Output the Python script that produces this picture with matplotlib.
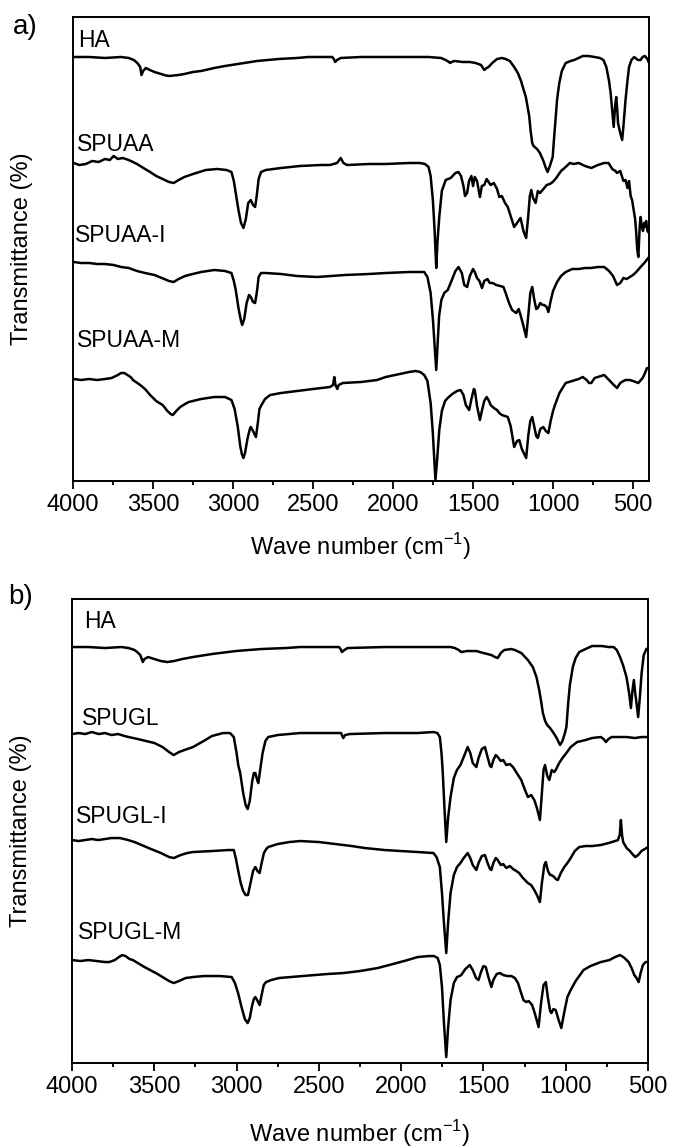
import numpy as np
import matplotlib
matplotlib.use("Agg")
import matplotlib.pyplot as plt

plt.rcParams['font.family'] = ['Liberation Sans', 'DejaVu Sans']

# FTIR spectra: (wavenumber cm-1, transmittance a.u. with stacking)
# ---- panel a ----
ha_a = [(4000, 424), (3900, 424), (3800, 423), (3700, 424), (3652, 423), (3620, 421), (3598, 418),
        (3580, 414), (3572, 406), (3562, 410), (3545, 413), (3520, 411), (3491, 409), (3450, 407),
        (3420, 405.5), (3398, 405), (3370, 405.5), (3340, 406), (3304, 407), (3250, 409), (3200, 410),
        (3117, 413), (3050, 415), (2929, 418), (2850, 420), (2715, 422), (2600, 423), (2528, 424),
        (2400, 424), (2380, 424), (2370, 422), (2362, 419), (2350, 421), (2327, 423), (2200, 424),
        (2046, 424), (1900, 424), (1778, 424), (1700, 423), (1671, 421), (1650, 419), (1644, 418),
        (1620, 420), (1564, 419), (1520, 419), (1484, 418), (1450, 416), (1430, 411), (1415, 413),
        (1403, 414), (1380, 418), (1350, 422), (1320, 423), (1296, 422), (1270, 420), (1243, 414),
        (1220, 408), (1200, 400), (1189, 394), (1170, 384), (1160, 375), (1149, 365), (1140, 350),
        (1130, 338), (1122, 335), (1100, 332), (1082, 328), (1060, 320), (1045, 313), (1034, 309),
        (1020, 315), (1010, 320), (1002, 324), (995, 340), (985, 360), (975, 381), (961, 398),
        (945, 410), (921, 418), (890, 420), (868, 421), (840, 423), (814, 425), (780, 425),
        (740, 424), (707, 423), (685, 421), (667, 414), (650, 400), (640, 388), (630, 370),
        (621, 354), (612, 375), (605, 384), (598, 370), (594, 358), (580, 348), (568, 341),
        (560, 355), (547, 381), (535, 400), (525, 414), (510, 421), (493, 424), (470, 421),
        (453, 421), (440, 424), (426, 425), (410, 422), (400, 418)]

spuaa = [(3995, 318), (3960, 316), (3920, 317), (3880, 320), (3840, 319), (3800, 322), (3770, 321),
         (3746, 325), (3720, 322), (3690, 323), (3652, 321), (3600, 317), (3560, 313), (3518, 309),
         (3480, 305), (3440, 302), (3400, 299), (3371, 298), (3340, 301), (3304, 304), (3250, 307),
         (3170, 311), (3100, 312), (3040, 311), (3010, 309), (2995, 300), (2983, 288), (2965, 270),
         (2950, 258), (2935, 253), (2920, 262), (2905, 278), (2889, 281), (2875, 276), (2862, 274),
         (2852, 285), (2840, 302), (2825, 309), (2795, 311), (2700, 313), (2581, 315), (2450, 316),
         (2394, 316), (2350, 318), (2327, 323), (2310, 318), (2287, 316), (2150, 317), (2046, 317),
         (1900, 318), (1832, 318), (1800, 317), (1778, 314), (1765, 305), (1751, 281), (1740, 250),
         (1730, 213), (1722, 240), (1711, 264), (1695, 290), (1671, 301), (1640, 303), (1610, 308),
         (1591, 309), (1575, 305), (1560, 295), (1550, 285), (1537, 288), (1525, 300), (1510, 305),
         (1500, 295), (1489, 304), (1475, 300), (1457, 284), (1445, 295), (1430, 296), (1415, 302),
         (1403, 299), (1390, 296), (1370, 298), (1350, 292), (1336, 284), (1320, 285), (1300, 278),
         (1283, 274), (1265, 265), (1243, 254), (1225, 258), (1203, 263), (1185, 250), (1168, 243),
         (1155, 265), (1145, 285), (1136, 291), (1125, 283), (1109, 278), (1095, 290), (1082, 288),
         (1060, 292), (1040, 296), (1020, 297), (1002, 299), (980, 303), (950, 310), (921, 314),
         (895, 318), (870, 317), (840, 318), (800, 315), (761, 313), (720, 316), (680, 318),
         (653, 318), (630, 312), (610, 310), (600, 308), (580, 310), (560, 300), (547, 301),
         (535, 293), (525, 300), (515, 285), (506, 281), (495, 270), (487, 262), (480, 248),
         (474, 232), (467, 224), (462, 240), (458, 255), (453, 264), (445, 255), (438, 250),
         (430, 258), (426, 254), (418, 260), (410, 250), (400, 248)]

spuaa_i = [(3995, 219), (3950, 218), (3900, 218), (3850, 217), (3800, 217), (3746, 216), (3700, 214),
           (3652, 213), (3600, 210), (3550, 208), (3491, 206), (3430, 202), (3400, 200), (3371, 199),
           (3340, 202), (3300, 205), (3277, 206), (3200, 209), (3117, 211), (3050, 210), (3010, 208),
           (2995, 200), (2983, 191), (2965, 172), (2950, 160), (2943, 156), (2930, 162), (2915, 178),
           (2900, 186), (2889, 184), (2875, 179), (2862, 178), (2850, 190), (2840, 204), (2825, 208),
           (2795, 208), (2700, 207), (2600, 205), (2474, 204), (2300, 206), (2150, 207), (2046, 208),
           (1900, 209), (1805, 209), (1785, 204), (1765, 188), (1750, 160), (1740, 135), (1730, 111),
           (1722, 135), (1712, 165), (1698, 181), (1680, 188), (1658, 191), (1630, 202), (1610, 210),
           (1591, 214), (1570, 208), (1555, 196), (1537, 194), (1520, 205), (1500, 212), (1489, 209),
           (1475, 203), (1460, 200), (1444, 193), (1430, 200), (1410, 202), (1395, 198), (1377, 198),
           (1355, 196), (1330, 195), (1310, 194), (1296, 188), (1275, 178), (1256, 171), (1230, 168),
           (1215, 172), (1203, 166), (1185, 155), (1168, 144), (1155, 165), (1142, 188), (1130, 194),
           (1118, 182), (1105, 172), (1095, 173), (1080, 178), (1065, 176), (1055, 176), (1040, 174),
           (1029, 169), (1015, 180), (1000, 190), (975, 199), (950, 205), (921, 209), (880, 212),
           (840, 212), (800, 213), (761, 213), (720, 214), (680, 214), (650, 210), (625, 205),
           (600, 196), (580, 198), (560, 203), (540, 202), (520, 204), (500, 206), (480, 209),
           (453, 214), (430, 218), (400, 224)]

spuaa_m = [(3995, 102), (3950, 101), (3900, 102), (3850, 101), (3800, 102), (3759, 103), (3720, 106),
           (3700, 108), (3679, 108), (3660, 106), (3640, 104), (3625, 101), (3580, 96), (3550, 92),
           (3518, 86), (3480, 80), (3440, 76), (3410, 70), (3390, 67), (3376, 66), (3355, 70),
           (3330, 74), (3300, 77), (3277, 79), (3200, 82), (3117, 84), (3050, 84), (3010, 81),
           (2990, 72), (2970, 54), (2955, 35), (2945, 27), (2935, 23), (2925, 28), (2910, 42),
           (2895, 52), (2889, 54), (2875, 50), (2857, 44), (2845, 58), (2835, 72), (2822, 76),
           (2800, 82), (2768, 86), (2700, 88), (2600, 90), (2500, 92), (2394, 94), (2375, 96),
           (2367, 104), (2360, 96), (2348, 92), (2340, 96), (2314, 98), (2200, 99), (2100, 101),
           (2046, 104), (1960, 107), (1900, 109), (1858, 110), (1830, 109), (1805, 106), (1785, 100),
           (1765, 78), (1752, 50), (1742, 20), (1735, 1), (1725, 20), (1711, 51), (1695, 70),
           (1675, 80), (1658, 83), (1630, 87), (1600, 90), (1578, 91), (1560, 86), (1545, 76),
           (1524, 71), (1510, 82), (1495, 92), (1489, 91), (1475, 75), (1457, 61), (1445, 70),
           (1430, 80), (1415, 84), (1403, 81), (1390, 76), (1370, 73), (1350, 71), (1336, 68),
           (1320, 66), (1300, 65), (1283, 64), (1265, 55), (1243, 34), (1225, 40), (1211, 41),
           (1195, 32), (1168, 23), (1155, 45), (1142, 60), (1130, 64), (1118, 55), (1105, 45),
           (1095, 43), (1080, 52), (1061, 54), (1045, 50), (1029, 48), (1015, 60), (1000, 70),
           (988, 76), (960, 88), (921, 98), (880, 100), (840, 102), (814, 104), (790, 101),
           (775, 98), (761, 98), (740, 103), (700, 105), (680, 106), (650, 101), (620, 96),
           (600, 93), (580, 98), (560, 100), (547, 101), (520, 101), (500, 100), (467, 98),
           (440, 103), (425, 108), (413, 113)]

# ---- panel b ----
ha_b = [(4000, 416), (3900, 416), (3800, 415), (3700, 416), (3656, 415), (3620, 413), (3604, 411),
        (3585, 408), (3570, 401), (3560, 404), (3538, 406), (3500, 404), (3460, 402), (3421, 401),
        (3380, 402), (3330, 404), (3265, 406), (3150, 409), (3004, 412), (2850, 414), (2700, 415),
        (2613, 416), (2450, 416), (2378, 416), (2368, 414), (2360, 411), (2345, 413), (2326, 415),
        (2100, 416), (1830, 416), (1700, 416), (1674, 415), (1650, 413), (1635, 411), (1600, 412),
        (1543, 412), (1500, 410), (1452, 408), (1430, 406), (1413, 405), (1395, 410), (1374, 413),
        (1330, 414), (1309, 413), (1270, 410), (1230, 403), (1200, 396), (1178, 386), (1160, 372),
        (1148, 360), (1139, 350), (1125, 342), (1113, 338), (1095, 335), (1074, 330), (1055, 325),
        (1035, 318), (1020, 322), (1005, 330), (996, 336), (985, 360), (975, 378), (970, 383),
        (957, 396), (940, 405), (918, 411), (880, 414), (840, 417), (780, 417), (740, 416),
        (709, 416), (690, 413), (670, 406), (650, 397), (631, 386), (615, 370), (604, 355),
        (595, 372), (586, 383), (578, 370), (570, 360), (560, 346), (550, 365), (539, 390),
        (526, 408), (510, 414), (500, 415)]

spugl = [(4000, 329), (3960, 330), (3920, 329), (3880, 331), (3838, 329), (3800, 330), (3760, 328),
         (3720, 329), (3680, 327), (3656, 326), (3600, 324), (3550, 322), (3499, 320), (3450, 316),
         (3410, 311), (3382, 308), (3350, 311), (3300, 314), (3265, 316), (3200, 322), (3150, 327),
         (3082, 330), (3040, 330), (3017, 326), (3000, 310), (2990, 298), (2978, 290), (2960, 270),
         (2945, 258), (2933, 254), (2920, 262), (2905, 282), (2895, 290), (2886, 290), (2875, 283),
         (2868, 280), (2855, 295), (2842, 310), (2825, 322), (2808, 326), (2750, 328), (2613, 330),
         (2450, 330), (2365, 330), (2352, 325), (2340, 328), (2313, 329), (2100, 330), (1900, 330),
         (1804, 331), (1780, 330), (1765, 326), (1755, 310), (1747, 290), (1737, 255), (1726, 221),
         (1715, 245), (1700, 266), (1680, 285), (1661, 293), (1640, 298), (1620, 306), (1596, 316),
         (1580, 310), (1565, 300), (1543, 296), (1530, 305), (1510, 314), (1491, 316), (1475, 306),
         (1460, 297), (1452, 296), (1440, 303), (1425, 308), (1413, 306), (1395, 302), (1380, 303),
         (1361, 298), (1340, 299), (1320, 296), (1309, 293), (1290, 288), (1270, 283), (1250, 274),
         (1230, 266), (1210, 268), (1191, 263), (1175, 255), (1157, 243), (1145, 270), (1135, 293),
         (1126, 298), (1112, 287), (1100, 283), (1085, 293), (1070, 291), (1061, 293), (1040, 300),
         (1020, 305), (996, 310), (970, 316), (931, 321), (880, 323), (840, 325), (787, 326),
         (770, 324), (756, 321), (740, 324), (722, 326), (680, 326), (631, 326), (580, 325),
         (540, 326), (500, 326)]

spugl_i = [(4000, 223), (3960, 222), (3920, 223), (3880, 224), (3840, 223), (3800, 224), (3760, 225),
           (3708, 225), (3660, 223), (3620, 221), (3577, 218), (3520, 214), (3460, 210), (3410, 206),
           (3382, 205), (3340, 208), (3300, 210), (3265, 211), (3150, 212), (3050, 213), (3017, 213),
           (3005, 205), (2991, 193), (2975, 180), (2960, 172), (2945, 168), (2931, 168), (2918, 178),
           (2900, 192), (2886, 196), (2873, 192), (2860, 190), (2848, 200), (2834, 210), (2820, 214),
           (2808, 216), (2750, 219), (2680, 221), (2613, 222), (2500, 221), (2400, 219), (2300, 217),
           (2221, 215), (2100, 213), (2000, 212), (1900, 211), (1804, 210), (1785, 206), (1765, 196),
           (1752, 170), (1740, 140), (1726, 110), (1715, 140), (1700, 170), (1680, 188), (1661, 196),
           (1640, 200), (1620, 205), (1596, 210), (1580, 205), (1565, 198), (1543, 193), (1530, 200),
           (1510, 207), (1491, 208), (1475, 200), (1460, 194), (1452, 193), (1440, 200), (1425, 205),
           (1413, 203), (1395, 198), (1380, 199), (1361, 195), (1340, 197), (1320, 194), (1300, 192),
           (1283, 190), (1260, 185), (1230, 180), (1210, 178), (1191, 173), (1175, 168), (1157, 161),
           (1145, 180), (1130, 198), (1121, 201), (1108, 192), (1095, 188), (1087, 188), (1070, 186),
           (1060, 184), (1048, 183), (1030, 190), (1009, 196), (990, 200), (970, 205), (945, 212),
           (918, 216), (880, 217), (840, 217), (787, 218), (740, 220), (700, 222), (683, 223),
           (672, 228), (665, 243), (658, 228), (651, 221), (630, 215), (610, 212), (595, 209),
           (578, 206), (560, 208), (540, 212), (520, 214), (500, 216)]

spugl_m = [(4000, 103), (3950, 102), (3900, 103), (3850, 102), (3800, 101), (3773, 101), (3740, 103),
           (3715, 106), (3695, 108), (3675, 107), (3650, 104), (3630, 103), (3590, 99), (3560, 96),
           (3525, 93), (3480, 89), (3440, 85), (3410, 82), (3382, 80), (3350, 82), (3310, 85),
           (3265, 86), (3200, 87), (3100, 87), (3030, 86), (3010, 80), (2991, 70), (2970, 56),
           (2950, 44), (2933, 40), (2920, 45), (2905, 58), (2895, 64), (2886, 66), (2872, 62),
           (2860, 58), (2848, 68), (2835, 78), (2821, 81), (2790, 83), (2743, 85), (2600, 87),
           (2450, 89), (2352, 90), (2250, 92), (2143, 95), (2050, 99), (1961, 103), (1900, 106),
           (1830, 107), (1800, 107), (1778, 105), (1765, 98), (1752, 76), (1740, 40), (1726, 6),
           (1715, 35), (1700, 63), (1680, 80), (1661, 86), (1645, 87), (1635, 88), (1610, 94),
           (1583, 98), (1565, 93), (1545, 85), (1530, 83), (1515, 91), (1500, 97), (1486, 96),
           (1470, 86), (1452, 76), (1440, 83), (1420, 89), (1400, 90), (1380, 88), (1355, 87),
           (1330, 87), (1309, 85), (1290, 80), (1275, 72), (1257, 63), (1240, 61), (1225, 62),
           (1204, 58), (1185, 48), (1165, 36), (1150, 60), (1135, 78), (1121, 81), (1108, 65),
           (1095, 52), (1087, 50), (1075, 54), (1061, 53), (1045, 44), (1027, 35), (1010, 50),
           (990, 66), (970, 73), (940, 82), (892, 93), (850, 97), (787, 101), (760, 102),
           (735, 103), (700, 106), (670, 108), (650, 106), (630, 103), (618, 101), (600, 95),
           (583, 88), (570, 85), (557, 81), (545, 90), (531, 98), (515, 101), (500, 101)]

names_a = ['HA', 'SPUAA', 'SPUAA-I', 'SPUAA-M']
names_b = ['HA', 'SPUGL', 'SPUGL-I', 'SPUGL-M']
label_y_a = [440, 336, 246, 141]
label_y_b = [442, 345, 247, 131]

fig = plt.figure(figsize=(6.73, 11.48), dpi=100)
ax_a = fig.add_axes([0.1085, 0.581, 0.8559, 0.4042])
ax_b = fig.add_axes([0.107, 0.074, 0.8559, 0.4042])


def draw_panel(ax, series, names, label_y, label_x, xmin, xlab_y):
    for spec, name, ly, lx in zip(series, names, label_y, label_x):
        arr = np.array(spec)
        ax.plot(arr[:, 0], arr[:, 1], color='black', lw=1.8,
                solid_joinstyle='round', solid_capstyle='round')
        ax.text(lx, ly, name, transform=ax.get_yaxis_transform(), fontsize=16.5,
                va='center', ha='left')
    ax.set_xlim(4000, xmin)
    ax.set_ylim(0, 464)
    ax.set_xticks(np.arange(4000, 499, -500))
    ax.set_xticks(np.arange(4000, xmin - 1, -250), minor=True)
    ax.set_yticks([])
    ax.tick_params(axis='x', which='major', direction='out', length=6, width=1.3,
                   labelsize=17, pad=3)
    ax.tick_params(axis='x', which='minor', direction='out', length=3, width=1.3)
    for s in ax.spines.values():
        s.set_linewidth(1.4)
    ax.set_xlabel(r'Wave number (cm$^{\mathregular{-1}}$)', fontsize=17)
    ax.xaxis.set_label_coords(0.5, xlab_y)
    ax.xaxis.label.set_va('center')
    ax.set_ylabel('Transmittance (%)', fontsize=17)
    ax.yaxis.set_label_coords(-0.069, 0.5)


draw_panel(ax_a, [ha_a, spuaa, spuaa_i, spuaa_m], names_a, label_y_a,
           [0.008, 0.007, 0.004, 0.007], 400, -0.142)
draw_panel(ax_b, [ha_b, spugl, spugl_i, spugl_m], names_b, label_y_b,
           [0.021, 0.017, 0.007, 0.010], 500, -0.151)

fig.text(13 / 673, 1 - 27 / 1148, 'a)', fontsize=20, va='center', ha='left')
fig.text(8 / 673, 1 - 597 / 1148, 'b)', fontsize=20, va='center', ha='left')

fig.savefig('out.png', dpi=100)
